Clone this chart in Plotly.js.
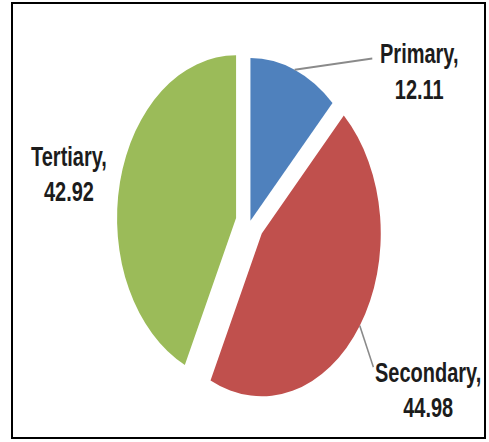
<!DOCTYPE html>
<html>
<head>
<meta charset="utf-8">
<script src="https://cdn.plot.ly/plotly-3.0.1.min.js"></script>
<style>
  html, body { margin: 0; padding: 0; background: #ffffff; }
  #wrap { position: relative; width: 489px; height: 442px; overflow: hidden; background: #fff; }
  #chart { position: absolute; left: 0; top: 0; width: 489px; height: 323px;
           transform: scaleY(1.3684); transform-origin: 0 0; }
  #frame { position: absolute; left: 11px; top: 2px; width: 475px; height: 437px;
           border: 2.5px solid #000; box-sizing: border-box; pointer-events: none; }
</style>
</head>
<body>
<div id="wrap">
  <div id="chart"></div>
  <div id="frame"></div>
</div>
<script>
// ---- data ----
const sectors = ["Primary", "Secondary", "Tertiary"];
const shares = [12.11, 44.98, 42.92];

// ---- style ----
const sliceColors = ["#4F81BD", "#C0504D", "#9BBB59"];
const slicePull = [0.01, 0.12, 0.12];
const labelDist = [1.70, 1.82, 1.55];      // label distance, in pie radii
const labelTurn = [35, 0, -1.7];           // label angle shift, degrees
const leaderHook = [[-47, -9], [-55, -17], null]; // leader end offset from label centre (px)
const W = 489, H = 323;                    // un-stretched plot size
const CX = 250, CY = 162.5, R = 119;       // pie centre and radius (px)
const FONT = { family: "Liberation Sans Narrow, Arial Narrow, sans-serif", size: 20, color: "#1c1c1c", weight: "bold" };

const maxPull = Math.max(...slicePull);
const half = R * (1 + maxPull);

const trace = {
  type: "pie",
  labels: sectors,
  values: shares,
  sort: false,
  direction: "clockwise",
  rotation: 0,
  pull: slicePull,
  marker: { colors: sliceColors, line: { width: 0 } },
  textinfo: "none",
  automargin: false,
  showlegend: false,
  hoverinfo: "label+value",
  domain: { x: [(CX - half) / W, (CX + half) / W], y: [1 - (CY + half) / H, 1 - (CY - half) / H] }
};

// slice mid-angles from the data (clockwise from 12 o'clock)
const total = shares.reduce((a, b) => a + b, 0);
let acc = 0;
const mids = shares.map(v => { const m = (acc + v / 2) / total * 360; acc += v; return m; });

const px2paper = (x, y) => [x / W, 1 - y / H];
const polar = (deg, dist) => { const a = deg * Math.PI / 180; return [Math.sin(a) * dist, -Math.cos(a) * dist]; };

const annotations = [];
const shapes = [];
sectors.forEach((name, i) => {
  const [lx, ly] = polar(mids[i] + labelTurn[i], labelDist[i] * R);
  const cx = CX + lx, cy = CY + ly;
  const [ax, ay] = px2paper(cx, cy);
  annotations.push({
    x: ax, y: ay, xref: "paper", yref: "paper", xanchor: "center", yanchor: "middle",
    text: name + ",<br>" + shares[i].toFixed(2), showarrow: false, align: "center", font: FONT
  });
  if (leaderHook[i]) {
    const [px, py] = polar(mids[i], R * (1 + slicePull[i]));
    const [s0x, s0y] = px2paper(CX + px, CY + py);
    const [s1x, s1y] = px2paper(cx + leaderHook[i][0], cy + leaderHook[i][1]);
    shapes.push({ type: "line", xref: "paper", yref: "paper", x0: s0x, y0: s0y, x1: s1x, y1: s1y,
                  line: { color: "#8a8a8a", width: 1.5 } });
  }
});

const layout = {
  width: W,
  height: H,
  margin: { l: 0, r: 0, t: 0, b: 0 },
  paper_bgcolor: "rgba(0,0,0,0)",
  plot_bgcolor: "rgba(0,0,0,0)",
  showlegend: false,
  annotations: annotations,
  shapes: shapes
};

Plotly.newPlot("chart", [trace], layout, { displayModeBar: false, staticPlot: true });
</script>
</body>
</html>
